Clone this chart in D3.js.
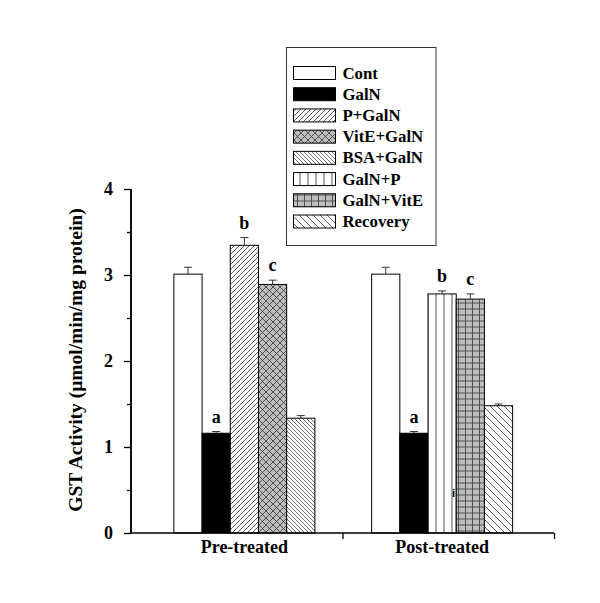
<!DOCTYPE html>
<html>
<head>
<meta charset="utf-8">
<script src="https://cdn.jsdelivr.net/npm/d3@7"></script>
<style>
  html, body { margin: 0; padding: 0; background: #fff; }
  svg { display: block; }
  text { font-family: "Liberation Serif", "Times New Roman", serif; font-weight: bold; fill: #000; }
</style>
</head>
<body>
<script>
// ---- data ----
const groups = ["Pre-treated", "Post-treated"];
const preSeries = ["Cont", "GalN", "P+GalN", "VitE+GalN", "BSA+GalN"];
const preValues = [3.01, 1.16, 3.345, 2.89, 1.335];
const preErrors = [0.08, 0.02, 0.09, 0.05, 0.03];
const preLetters = ["", "a", "b", "c", ""];
const postSeries = ["Cont", "GalN", "GalN+P", "GalN+VitE", "Recovery"];
const postValues = [3.01, 1.16, 2.78, 2.72, 1.48];
const postErrors = [0.08, 0.02, 0.035, 0.06, 0.02];
const postLetters = ["", "a", "b", "c", ""];
const legendItems = ["Cont", "GalN", "P+GalN", "VitE+GalN", "BSA+GalN", "GalN+P", "GalN+VitE", "Recovery"];
const yTicks = [0, 1, 2, 3, 4];
const yMinorTicks = [0.5, 1.5, 2.5, 3.5];
const yLabel = "GST Activity (\u03BCmol/min/mg protein)";

const W = 600, H = 603;
const svg = d3.select("body").append("svg").attr("width", W).attr("height", H);

// ---- patterns ----
const defs = svg.append("defs");
function pat(id, w, h, bg, draw) {
  const p = defs.append("pattern").attr("id", id).attr("patternUnits", "userSpaceOnUse")
    .attr("width", w).attr("height", h);
  p.append("rect").attr("width", w).attr("height", h).attr("fill", bg);
  draw(p);
}
const ln = (p, x1, y1, x2, y2, c, sw) => p.append("line").attr("x1", x1).attr("y1", y1)
  .attr("x2", x2).attr("y2", y2).attr("stroke", c).attr("stroke-width", sw);

pat("pFwd", 5, 5, "#fff", p => { ln(p, -1, 6, 6, -1, "#333", 0.8); ln(p, -1, 1, 1, -1, "#333", 0.8); ln(p, 4, 6, 6, 4, "#333", 0.8); });
pat("pCross", 7, 7, "#bdbdbd", p => {
  ln(p, 0, 0, 7, 7, "#333", 0.8); ln(p, 0, 7, 7, 0, "#333", 0.8);
});
pat("pBackDense", 4, 4, "#fff", p => { ln(p, -1, -1, 5, 5, "#333", 0.7); ln(p, 3, -1, 5, 1, "#333", 0.7); ln(p, -1, 3, 1, 5, "#333", 0.7); });
pat("pVert", 8, 8, "#fff", p => { ln(p, 4, 0, 4, 8, "#555", 1); });
pat("pGrid", 7, 6, "#bdbdbd", p => { ln(p, 0, 3, 7, 3, "#444", 0.9); ln(p, 3.5, 0, 3.5, 6, "#444", 0.9); });
pat("pBackSparse", 7, 7, "#fff", p => { ln(p, -1, -1, 8, 8, "#333", 0.8); ln(p, 6, -1, 8, 1, "#333", 0.8); ln(p, -1, 6, 1, 8, "#333", 0.8); });

const fills = {
  "Cont": "#fff", "GalN": "#000", "P+GalN": "url(#pFwd)", "VitE+GalN": "url(#pCross)",
  "BSA+GalN": "url(#pBackDense)", "GalN+P": "url(#pVert)", "GalN+VitE": "url(#pGrid)",
  "Recovery": "url(#pBackSparse)"
};

// ---- scales ----
const y = d3.scaleLinear().domain([0, 4]).range([533, 189]);
const xAxisScale = d3.scaleLinear().domain([0, 2]).range([131, 554]);
const xGroup = d3.scaleBand().domain(groups).range([145.5, 541]);
const xInner = d3.scaleBand().domain(d3.range(5)).range([-70.5, 70.5]);

const groupData = [
  { g: groups[0], series: preSeries, values: preValues, errors: preErrors, letters: preLetters },
  { g: groups[1], series: postSeries, values: postValues, errors: postErrors, letters: postLetters }
];
const bars = groupData.flatMap(gd => gd.series.map((s, i) => ({
  g: gd.g, s, i, v: gd.values[i], e: gd.errors[i], l: gd.letters[i]
})));
const cx = d => xGroup(d.g) + xGroup.bandwidth() / 2 + xInner(d.i);

// ---- bars ----
svg.append("g").selectAll("rect").data(bars).join("rect")
  .attr("x", d => cx(d)).attr("y", d => y(d.v))
  .attr("width", xInner.bandwidth()).attr("height", d => y(0) - y(d.v))
  .attr("fill", d => fills[d.s]).attr("stroke", "#000").attr("stroke-width", 1);

// ---- error bars ----
const eb = svg.append("g").attr("stroke", "#333").attr("stroke-width", 1);
bars.forEach(d => {
  const mx = cx(d) + xInner.bandwidth() / 2;
  eb.append("line").attr("x1", mx).attr("x2", mx).attr("y1", y(d.v)).attr("y2", y(d.v + d.e));
  eb.append("line").attr("x1", mx - 4).attr("x2", mx + 4).attr("y1", y(d.v + d.e)).attr("y2", y(d.v + d.e));
});

// ---- letters ----
svg.append("g").selectAll("text").data(bars.filter(d => d.l)).join("text")
  .attr("x", d => cx(d) + xInner.bandwidth() / 2)
  .attr("y", d => y(d.v + d.e) - 9)
  .attr("text-anchor", "middle").attr("font-size", 18).text(d => d.l);

// small stray mark in the original
svg.append("text").attr("x", xGroup(groups[1]) + xGroup.bandwidth() / 2 + xInner(2) + 24)
  .attr("y", 497).attr("font-size", 11).attr("font-weight", "normal")
  .style("font-family", "Liberation Sans, Arial, sans-serif").text("i");

// ---- y axis ----
const yAxis = svg.append("g").attr("transform", "translate(131,0)")
  .call(d3.axisLeft(y).tickValues(yTicks).tickSize(7).tickPadding(11).tickFormat(d3.format("d")));
yAxis.selectAll("text").attr("font-size", 18).style("font-family", "Liberation Serif, serif").style("font-weight", "bold");
const yMinor = svg.append("g").attr("transform", "translate(131,0)")
  .call(d3.axisLeft(y).tickValues(yMinorTicks).tickSize(4).tickFormat(""));
[yAxis, yMinor].forEach(a => {
  a.select(".domain").attr("stroke", "#000").attr("stroke-width", 1.5).attr("d", `M0,${y(0)}V${y(4)}`);
  a.selectAll(".tick line").attr("stroke", "#000").attr("stroke-width", 1.3);
});

// ---- x axis ----
const xAxis = svg.append("g").attr("transform", `translate(0,${y(0)})`)
  .call(d3.axisBottom(xAxisScale).tickValues([1, 2]).tickSize(6).tickFormat(""));
xAxis.select(".domain").attr("stroke", "#000").attr("stroke-width", 1.5).attr("d", `M131,0H554`);
xAxis.selectAll(".tick line").attr("stroke", "#000").attr("stroke-width", 1.3);

svg.append("g").selectAll("text").data(groups).join("text")
  .attr("x", d => xGroup(d) + xGroup.bandwidth() / 2).attr("y", 553)
  .attr("text-anchor", "middle").attr("font-size", 18).text(d => d);

// ---- y label ----
svg.append("text").attr("transform", "translate(82,360) rotate(-90)")
  .attr("text-anchor", "middle").attr("font-size", 19.5).text(yLabel);

// ---- legend ----
const lg = svg.append("g");
lg.append("rect").attr("x", 286.5).attr("y", 47.5).attr("width", 149.5).attr("height", 198)
  .attr("fill", "#fff").attr("stroke", "#333").attr("stroke-width", 1);
const rowY = d3.scaleLinear().domain([0, legendItems.length - 1]).range([66.5, 215]);
legendItems.forEach((s, i) => {
  lg.append("rect").attr("x", 293.5).attr("y", rowY(i)).attr("width", 42).attr("height", 13)
    .attr("fill", fills[s]).attr("stroke", "#000").attr("stroke-width", 1);
  lg.append("text").attr("x", 342.5).attr("y", rowY(i) + 12).attr("font-size", 16.8).text(s);
});
</script>
</body>
</html>
